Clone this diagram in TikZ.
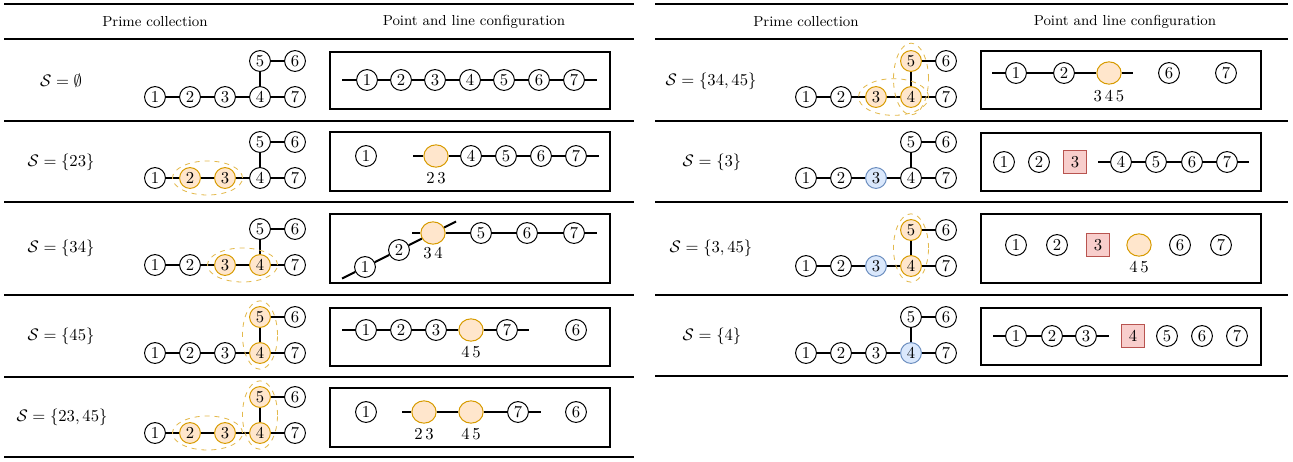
\documentclass[tikz,border=0pt]{standalone}
\usetikzlibrary{shapes.geometric}

\definecolor{ofill}{HTML}{FFE6CC}
\definecolor{ocol}{HTML}{D79B00}
\definecolor{bfill}{HTML}{DAE8FC}
\definecolor{bcol}{HTML}{6C8EBF}
\definecolor{rfill}{HTML}{F8CECC}
\definecolor{rcol}{HTML}{B85450}

\newcommand{\primetree}[7]{%
  \node[vx] (#1-1) at (#2,#3) {1};
  \node[vx,#4] (#1-2) at (#2+35,#3) {2};
  \node[vx,#5] (#1-3) at (#2+70,#3) {3};
  \node[vx,#6] (#1-4) at (#2+105,#3) {4};
  \node[vx] (#1-7) at (#2+140,#3) {7};
  \node[vx,#7] (#1-5) at (#2+105,#3-36) {5};
  \node[vx] (#1-6) at (#2+140,#3-36) {6};
  \draw[ln] (#1-1) -- (#1-2) -- (#1-3) -- (#1-4) -- (#1-7);
  \draw[ln] (#1-4) -- (#1-5) -- (#1-6);
}

\begin{document}
\begin{tikzpicture}[
    x=0.6pt, y=-0.6pt,
    vx/.style={circle, draw, line width=0.6pt, fill=white, minimum size=12.5pt, inner sep=0pt, font=\fontsize{10}{10}\selectfont},
    og/.style={draw=ocol, fill=ofill},
    bl/.style={draw=bcol, fill=bfill},
    mg/.style={ellipse, draw=ocol, fill=ofill, line width=0.6pt, minimum width=14.6pt, minimum height=13.4pt, inner sep=0pt},
    rq/.style={rectangle, draw=rcol, fill=rfill, line width=0.6pt, minimum size=13.8pt, inner sep=0pt, font=\fontsize{10}{10}\selectfont},
    gh/.style={ellipse, draw=ocol!70, dashed, line width=0.5pt, minimum width=42pt, minimum height=20.4pt},
    gv/.style={ellipse, draw=ocol!70, dashed, line width=0.5pt, minimum width=21pt, minimum height=41pt},
    ln/.style={line width=1.2pt},
    bx/.style={draw, line width=0.65pt},
    lb/.style={font=\fontsize{10}{10}\selectfont, inner sep=1pt},
    hd/.style={font=\fontsize{8.7}{10}\selectfont},
    thk/.style={line width=1.6pt},
    thn/.style={line width=0.8pt},
]
\useasboundingbox (0,0) rectangle (1293,461);

% left table
\draw[thk] (4,4) -- (634,4);
\draw[thk] (4,39) -- (634,39);
\draw[thn] (4,121) -- (634,121);
\draw[thn] (4,202) -- (634,202);
\draw[thn] (4,295) -- (634,295);
\draw[thn] (4,377) -- (634,377);
\draw[thk] (4,457) -- (634,457);
\node[hd] (h1) at (155,22) {Prime collection};
\node[hd] (h2) at (474,22) {Point and line configuration};

% S = empty
\node (s1) at (61,81) {$\mathcal{S}=\emptyset$};
\primetree{t1}{155}{97}{}{}{}{}
\draw[bx] (330,52) rectangle (610,109);
\coordinate (c1l) at (342,80);
\coordinate (c1r) at (597,80);
\foreach \i/\x in {1/367,2/401,3/435,4/470,5/504,6/539,7/574}
  \node[vx] (c1-\i) at (\x,80) {\i};
\draw[ln] (c1l) -- (c1-1) -- (c1-2) -- (c1-3) -- (c1-4) -- (c1-5) -- (c1-6) -- (c1-7) -- (c1r);

% S = {23}
\node (s2) at (61,162) {$\mathcal{S}=\{23\}$};
\primetree{t2}{155}{178}{og}{og}{}{}
\node[gh] (g2) at (207.5,178) {};
\draw[bx] (330,132) rectangle (610,191);
\node[vx] (c2-1) at (366,156) {1};
\node[mg] (c2-23) at (436,156) {};
\node[lb] (c2-t) at (436,178) {2\,3};
\foreach \i/\x in {4/471,5/506,6/541,7/576}
  \node[vx] (c2-\i) at (\x,156) {\i};
\coordinate (c2l) at (413,156);
\coordinate (c2r) at (599,156);
\draw[ln] (c2l) -- (c2-23) -- (c2-4) -- (c2-5) -- (c2-6) -- (c2-7) -- (c2r);

% S = {34}
\node (s3) at (61,248) {$\mathcal{S}=\{34\}$};
\primetree{t3}{155}{265}{}{og}{og}{}
\node[gh] (g3) at (242.5,265) {};
\draw[bx] (330,214) rectangle (610,283);
\node[vx] (c3-1) at (365,267) {1};
\node[vx] (c3-2) at (399,250) {2};
\node[mg] (c3-34) at (433,233) {};
\node[lb] (c3-t) at (433,253) {3\,4};
\foreach \i/\x in {5/481,6/527,7/574}
  \node[vx] (c3-\i) at (\x,233) {\i};
\coordinate (c3a) at (342,278.5);
\coordinate (c3b) at (456,221.5);
\coordinate (c3l) at (412,233);
\coordinate (c3r) at (597,233);
\draw[ln] (c3a) -- (c3-1) -- (c3-2) -- (c3-34) -- (c3b);
\draw[ln] (c3l) -- (c3-34) -- (c3-5) -- (c3-6) -- (c3-7) -- (c3r);

% S = {45}
\node (s4) at (61,336) {$\mathcal{S}=\{45\}$};
\primetree{t4}{155}{353}{}{}{og}{og}
\node[gv] (g4) at (260,335) {};
\draw[bx] (330,308) rectangle (610,366);
\foreach \i/\x in {1/366,2/401,3/436}
  \node[vx] (c4-\i) at (\x,330) {\i};
\node[mg] (c4-45) at (471,330) {};
\node[lb] (c4-t) at (471,352) {4\,5};
\node[vx] (c4-7) at (507,330) {7};
\node[vx] (c4-6) at (576,330) {6};
\coordinate (c4l) at (342,330);
\coordinate (c4r) at (529,330);
\draw[ln] (c4l) -- (c4-1) -- (c4-2) -- (c4-3) -- (c4-45) -- (c4-7) -- (c4r);

% S = {23,45}
\node (s5) at (62,417) {$\mathcal{S}=\{23,45\}$};
\primetree{t5}{155}{433}{og}{og}{og}{og}
\node[gh] (g5a) at (207.5,433) {};
\node[gv] (g5b) at (260,415) {};
\draw[bx] (330,388) rectangle (610,447);
\node[vx] (c5-1) at (366,412) {1};
\node[mg] (c5-23) at (424,412) {};
\node[mg] (c5-45) at (471,412) {};
\node[lb] (c5-ta) at (424,434) {2\,3};
\node[lb] (c5-tb) at (471,434) {4\,5};
\node[vx] (c5-7) at (518,412) {7};
\node[vx] (c5-6) at (576,412) {6};
\coordinate (c5l) at (402,412);
\coordinate (c5r) at (541,412);
\draw[ln] (c5l) -- (c5-23) -- (c5-45) -- (c5-7) -- (c5r);

% right table
\draw[thk] (655,4) -- (1288,4);
\draw[thk] (655,39) -- (1288,39);
\draw[thn] (655,121) -- (1288,121);
\draw[thn] (655,202) -- (1288,202);
\draw[thn] (655,295) -- (1288,295);
\draw[thk] (655,376) -- (1288,376);
\node[hd] (h3) at (806,22) {Prime collection};
\node[hd] (h4) at (1125,22) {Point and line configuration};

% S = {34,45}
\node (s6) at (711,81) {$\mathcal{S}=\{34,45\}$};
\primetree{t6}{806}{97}{}{og}{og}{og}
\node[gh, minimum height=22pt] (g6a) at (893.5,97) {};
\node[gv, minimum height=43pt] (g6b) at (911,79) {};
\draw[bx] (981,51) rectangle (1261,109);
\node[vx] (c6-1) at (1016,73) {1};
\node[vx] (c6-2) at (1064,73) {2};
\node[mg] (c6-345) at (1109,73) {};
\node[lb] (c6-t) at (1109,96) {3\,4\,5};
\node[vx] (c6-6) at (1169,73) {6};
\node[vx] (c6-7) at (1226,73) {7};
\coordinate (c6l) at (992,73);
\coordinate (c6r) at (1133,73);
\draw[ln] (c6l) -- (c6-1) -- (c6-2) -- (c6-345) -- (c6r);

% S = {3}
\node (s7) at (712,162) {$\mathcal{S}=\{3\}$};
\primetree{t7}{806}{178}{}{bl}{}{}
\draw[bx] (981,133) rectangle (1261,191);
\node[vx] (c7-1) at (1004,162) {1};
\node[vx] (c7-2) at (1039,162) {2};
\node[rq] (c7-3) at (1075,162) {3};
\foreach \i/\x in {4/1121,5/1156,6/1192,7/1227}
  \node[vx] (c7-\i) at (\x,162) {\i};
\coordinate (c7l) at (1098,162);
\coordinate (c7r) at (1249,162);
\draw[ln] (c7l) -- (c7-4) -- (c7-5) -- (c7-6) -- (c7-7) -- (c7r);

% S = {3,45}
\node (s8) at (711,248) {$\mathcal{S}=\{3,45\}$};
\primetree{t8}{806}{266}{}{bl}{og}{og}
\node[gv] (g8) at (911,248) {};
\draw[bx] (981,214) rectangle (1261,283);
\node[vx] (c8-1) at (1016,245) {1};
\node[vx] (c8-2) at (1057,245) {2};
\node[rq] (c8-3) at (1098,245) {3};
\node[mg] (c8-45) at (1139,245) {};
\node[lb] (c8-t) at (1139,267) {4\,5};
\node[vx] (c8-6) at (1180,245) {6};
\node[vx] (c8-7) at (1221,245) {7};

% S = {4}
\node (s9) at (712,336) {$\mathcal{S}=\{4\}$};
\primetree{t9}{806}{353}{}{}{bl}{}
\draw[bx] (981,308) rectangle (1261,365);
\foreach \i/\x in {1/1016,2/1052,3/1086}
  \node[vx] (c9-\i) at (\x,336) {\i};
\node[rq] (c9-4) at (1133,336) {4};
\foreach \i/\x in {5/1167,6/1202,7/1237}
  \node[vx] (c9-\i) at (\x,336) {\i};
\coordinate (c9l) at (993,336);
\coordinate (c9r) at (1109,336);
\draw[ln] (c9l) -- (c9-1) -- (c9-2) -- (c9-3) -- (c9r);
\end{tikzpicture}
\end{document}
